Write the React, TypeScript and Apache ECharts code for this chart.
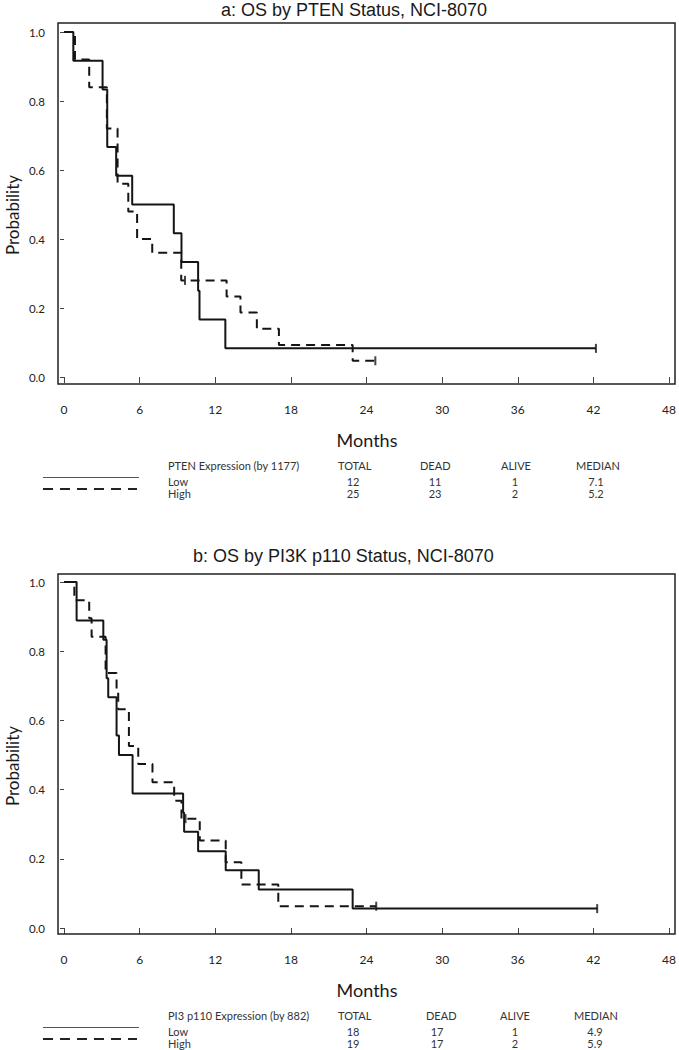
import React, { useEffect, useRef } from "react";
import * as echarts from "echarts";

// ---------- Data ----------
const xTicks = [0, 6, 12, 18, 24, 30, 36, 42, 48];
const yTicks = [0, 0.2, 0.4, 0.6, 0.8, 1.0];

// Chart a: PTEN
const ptenLowTime = [0, 0.74, 3.06, 3.43, 4.14, 5.41, 8.71, 9.32, 10.64, 10.75, 12.8, 42.2];
const ptenLowSurv = [1.0, 0.917, 0.833, 0.667, 0.583, 0.5, 0.417, 0.333, 0.25, 0.167, 0.083, 0.083];
const ptenHighTime = [0, 0.87, 2.0, 3.4, 4.25, 5.1, 5.8, 7.0, 9.3, 12.9, 14.0, 15.3, 17.05, 22.9, 24.7];
const ptenHighSurv = [1.0, 0.92, 0.84, 0.72, 0.56, 0.48, 0.4, 0.36, 0.28, 0.233, 0.187, 0.14, 0.093, 0.047, 0.047];
const ptenLowCensor = [[42.2, 0.083]];
const ptenHighCensor = [[9.6, 0.28], [24.7, 0.047]];

// Chart b: PI3K p110
const pi3LowTime = [0, 1.0, 3.12, 3.38, 3.51, 4.17, 4.36, 5.44, 9.45, 9.53, 10.64, 12.83, 15.45, 22.9, 42.3];
const pi3LowSurv = [1.0, 0.889, 0.833, 0.722, 0.667, 0.556, 0.5, 0.389, 0.333, 0.278, 0.222, 0.167, 0.111, 0.056, 0.056];
const pi3HighTime = [0, 0.82, 2.0, 2.19, 3.3, 4.17, 4.3, 5.15, 5.89, 7.02, 8.74, 9.32, 10.77, 12.83, 14.07, 17.0, 24.77];
const pi3HighSurv = [1.0, 0.947, 0.895, 0.842, 0.737, 0.684, 0.632, 0.526, 0.474, 0.421, 0.368, 0.316, 0.253, 0.19, 0.126, 0.063, 0.063];
const pi3LowCensor = [[42.3, 0.056]];
const pi3HighCensor = [[9.64, 0.316], [24.77, 0.063]];

// Titles and tables
const titles = ["a: OS by PTEN Status, NCI-8070", "b: OS by PI3K p110 Status, NCI-8070"];
const tableGroupLabels = ["PTEN Expression (by 1177)", "PI3 p110 Expression (by 882)"];
const tableHeaders = ["TOTAL", "DEAD", "ALIVE", "MEDIAN"];
const groupNames = ["Low", "High"];
const ptenTable = [["12", "11", "1", "7.1"], ["25", "23", "2", "5.2"]];
const pi3Table = [["18", "17", "1", "4.9"], ["19", "17", "2", "5.9"]];

const FONT = "Lato, 'Open Sans', sans-serif";
const INK = "#151515";

function pairs(t: number[], s: number[]) {
  return t.map((v, i) => [v, s[i]]);
}

export default function App() {
  const ref = useRef<HTMLDivElement>(null);

  useEffect(() => {
    if (!ref.current) return;
    const chart = echarts.init(ref.current, undefined, { renderer: "svg" });

    const panels = [
      {
        grid: { left: 64, top: 32, width: 606, height: 345 },
        frame: { x: 58, y: 23, width: 617, height: 361 },
        xOffset: 7,
        title: { x: 221, y: 10 },
        prob: { x: 12, y: 215 },
        months: { x: 367, y: 440 },
        table: { header: 465, rows: [481, 493], solid: 477.5, dashed: 489, cols: [338, 420, 501, 576], vals: [353, 435, 515, 596], group: tableGroupLabels[0], data: ptenTable },
        low: pairs(ptenLowTime, ptenLowSurv),
        high: pairs(ptenHighTime, ptenHighSurv),
        lowC: ptenLowCensor,
        highC: ptenHighCensor,
        titleText: titles[0],
      },
      {
        grid: { left: 64, top: 582, width: 607, height: 346 },
        frame: { x: 58, y: 574, width: 617, height: 360 },
        xOffset: 6,
        title: { x: 193, y: 556 },
        prob: { x: 12, y: 766 },
        months: { x: 367, y: 990 },
        table: { header: 1015, rows: [1031, 1043], solid: 1027.5, dashed: 1039, cols: [338, 426, 500, 574], vals: [353, 437, 515, 595], group: tableGroupLabels[1], data: pi3Table },
        low: pairs(pi3LowTime, pi3LowSurv),
        high: pairs(pi3HighTime, pi3HighSurv),
        lowC: pi3LowCensor,
        highC: pi3HighCensor,
        titleText: titles[1],
      },
    ];

    const graphics: any[] = [];
    const series: any[] = [];
    const xAxes: any[] = [];
    const yAxes: any[] = [];

    panels.forEach((p, i) => {
      xAxes.push({
        type: "value",
        gridIndex: i,
        min: xTicks[0],
        max: xTicks[xTicks.length - 1],
        interval: 6,
        offset: p.xOffset,
        axisLine: { show: false },
        axisTick: { show: true, length: 6, lineStyle: { color: "#444", width: 1 } },
        axisLabel: { margin: 19, fontFamily: FONT, fontSize: 12, color: "#222" },
        splitLine: { show: false },
      });
      yAxes.push({
        type: "value",
        gridIndex: i,
        min: yTicks[0],
        max: yTicks[yTicks.length - 1],
        interval: 0.2,
        offset: 7,
        axisLine: { show: false },
        axisTick: { show: true, length: 4, lineStyle: { color: "#444", width: 1 } },
        axisLabel: { margin: 12, fontFamily: FONT, fontSize: 11.5, color: "#222", formatter: (v: number) => v.toFixed(1) },
        splitLine: { show: false },
      });
      series.push({
        type: "line",
        name: `${p.titleText} Low`,
        xAxisIndex: i,
        yAxisIndex: i,
        data: p.low,
        step: "end",
        symbol: "none",
        silent: true,
        lineStyle: { color: INK, width: 2, type: "solid" },
        z: 3,
      });
      series.push({
        type: "line",
        name: `${p.titleText} High`,
        xAxisIndex: i,
        yAxisIndex: i,
        data: p.high,
        step: "end",
        symbol: "none",
        silent: true,
        lineStyle: { color: INK, width: 2, type: [9, 6] },
        z: 2,
      });
      series.push({
        type: "scatter",
        xAxisIndex: i,
        yAxisIndex: i,
        data: [...p.lowC, ...p.highC],
        symbol: "rect",
        symbolSize: [2, 9],
        silent: true,
        itemStyle: { color: INK },
        z: 4,
      });

      // frame
      graphics.push({
        type: "rect",
        shape: p.frame,
        style: { fill: "none", stroke: "#222", lineWidth: 1.5 },
        z: 10,
      });
      // title
      graphics.push({
        type: "text",
        x: p.title.x,
        y: p.title.y,
        style: { text: p.titleText, fontFamily: "'Liberation Sans', Arial, sans-serif", fontSize: 18, fill: "#1a1a1a", align: "left", verticalAlign: "middle" },
      });
      // Probability
      graphics.push({
        type: "text",
        x: p.prob.x,
        y: p.prob.y,
        rotation: Math.PI / 2,
        style: { text: "Probability", fontFamily: FONT, fontSize: 17, fill: "#1a1a1a", align: "center", verticalAlign: "middle" },
      });
      // Months
      graphics.push({
        type: "text",
        x: p.months.x,
        y: p.months.y,
        style: { text: "Months", fontFamily: FONT, fontSize: 18, fill: "#1a1a1a", align: "center", verticalAlign: "middle" },
      });
      // legend lines
      graphics.push({
        type: "line",
        shape: { x1: 43, y1: p.table.solid, x2: 139, y2: p.table.solid },
        style: { stroke: "#555", lineWidth: 1 },
      });
      graphics.push({
        type: "line",
        shape: { x1: 43, y1: p.table.dashed, x2: 137, y2: p.table.dashed },
        style: { stroke: "#222", lineWidth: 2, lineDash: [10, 7] },
      });
      // table header
      graphics.push({
        type: "text",
        x: 168,
        y: p.table.header,
        style: { text: p.table.group, fontFamily: FONT, fontSize: 11, fill: "#333", align: "left", verticalAlign: "middle" },
      });
      tableHeaders.forEach((h, k) => {
        graphics.push({
          type: "text",
          x: p.table.cols[k],
          y: p.table.header,
          style: { text: h, fontFamily: FONT, fontSize: 11, fill: "#333", align: "left", verticalAlign: "middle" },
        });
      });
      groupNames.forEach((g, r) => {
        graphics.push({
          type: "text",
          x: 168,
          y: p.table.rows[r],
          style: { text: g, fontFamily: FONT, fontSize: 11, fill: "#333", align: "left", verticalAlign: "middle" },
        });
        p.table.data[r].forEach((v, k) => {
          graphics.push({
            type: "text",
            x: p.table.vals[k],
            y: p.table.rows[r],
            style: { text: v, fontFamily: FONT, fontSize: 11, fill: "#333", align: "center", verticalAlign: "middle" },
          });
        });
      });
    });

    chart.setOption({
      animation: false,
      backgroundColor: "#ffffff",
      grid: panels.map((p) => ({ ...p.grid, containLabel: false })),
      xAxis: xAxes,
      yAxis: yAxes,
      series,
      graphic: { elements: graphics },
    });

    return () => {
      chart.dispose();
    };
  }, []);

  return (
    <div
      ref={ref}
      style={{ position: "fixed", left: 0, top: 0, width: 679, height: 1050, background: "#fff" }}
    />
  );
}
